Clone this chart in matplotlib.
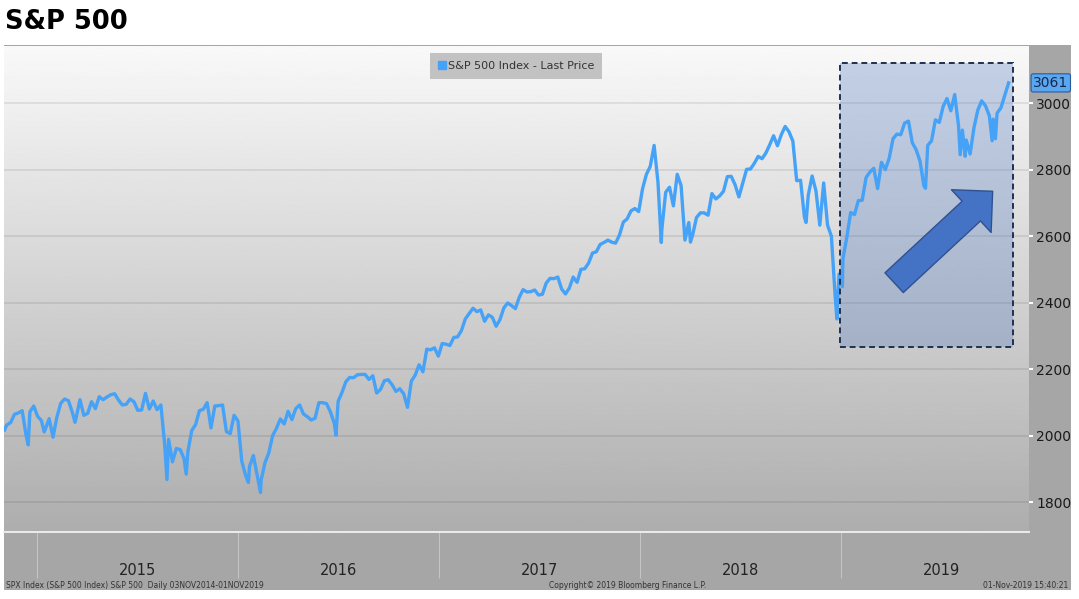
import numpy as np
import pandas as pd
import matplotlib
matplotlib.use('Agg')
import matplotlib.pyplot as plt
import matplotlib.dates as mdates
from matplotlib.patches import Rectangle
from matplotlib.lines import Line2D

# weekly (Friday) last prices
spx_2014 = [2032, 2039, 2064, 2068, 2075, 2002, 2071, 2089]
spx_2015 = [2058, 2045, 2019, 2051, 1995, 2055, 2097, 2110, 2105, 2071, 2053, 2108, 2061,
            2067, 2102, 2081, 2117, 2108, 2116, 2123, 2126, 2107, 2092, 2094, 2110, 2102,
            2076, 2077, 2127, 2080, 2104, 2078, 2092, 1971, 1989, 1921, 1961, 1958, 1931,
            1951, 2015, 2033, 2075, 2079, 2099, 2023, 2089, 2090, 2092, 2012, 2006, 2061]
spx_2016 = [2044, 1922, 1880, 1907, 1940, 1880, 1865, 1918, 1948, 2000, 2022, 2050, 2035,
            2073, 2048, 2081, 2092, 2065, 2057, 2047, 2052, 2099, 2099, 2096, 2071, 2037,
            2103, 2130, 2162, 2175, 2174, 2183, 2184, 2184, 2169, 2180, 2128, 2139, 2165,
            2168, 2153, 2133, 2141, 2126, 2085, 2164, 2182, 2213, 2192, 2260, 2258, 2264, 2239]
spx_2017 = [2277, 2275, 2271, 2295, 2297, 2316, 2351, 2367, 2383, 2373, 2378, 2344, 2363,
            2356, 2329, 2349, 2384, 2399, 2391, 2382, 2416, 2439, 2432, 2433, 2438, 2423,
            2425, 2459, 2473, 2472, 2477, 2441, 2426, 2444, 2477, 2461, 2500, 2502, 2519,
            2549, 2553, 2575, 2581, 2588, 2582, 2579, 2603, 2642, 2652, 2676, 2683, 2674]
spx_2018 = [2743, 2786, 2810, 2873, 2762, 2620, 2732, 2747, 2691, 2786, 2752, 2588, 2641,
            2604, 2656, 2670, 2670, 2663, 2728, 2712, 2721, 2735, 2779, 2780, 2755, 2718,
            2760, 2801, 2802, 2819, 2840, 2833, 2850, 2875, 2902, 2872, 2905, 2930, 2914,
            2886, 2767, 2768, 2658, 2723, 2781, 2736, 2633, 2760, 2633, 2600, 2417, 2486]
spx_2019 = [2532, 2596, 2671, 2665, 2707, 2708, 2776, 2793, 2804, 2743, 2822, 2800, 2834,
            2893, 2907, 2905, 2940, 2946, 2881, 2860, 2826, 2752, 2873, 2887, 2950, 2942,
            2990, 3014, 2977, 3026, 2932, 2919, 2889, 2847, 2926, 2979, 3007, 2992, 2962,
            2952, 2970, 2986, 3023, 3061]

# daily turning points visible on the chart
extra_dates = ['2014-11-03', '2014-12-16', '2015-01-14', '2015-03-11', '2015-08-25',
               '2015-09-29', '2016-01-20', '2016-02-11', '2016-06-27', '2018-02-08',
               '2018-04-02', '2018-10-29', '2018-12-24', '2019-01-03', '2019-06-03',
               '2019-08-05', '2019-08-14', '2019-10-02', '2019-10-08']
extra_vals = [2017, 1972, 2011, 2040, 1868, 1884, 1859, 1829, 2001, 2581,
              2582, 2641, 2351, 2448, 2744, 2845, 2840, 2887, 2893]

years = ['2015', '2016', '2017', '2018', '2019']
y_ticks = [1800, 2000, 2200, 2400, 2600, 2800, 3000]
last_price = 3061

weekly = spx_2014 + spx_2015 + spx_2016 + spx_2017 + spx_2018 + spx_2019
dates = pd.date_range('2014-11-07', '2019-11-01', freq='W-FRI')
s = pd.Series(weekly, index=dates)
s = pd.concat([s, pd.Series(extra_vals, index=pd.to_datetime(extra_dates))]).sort_index()

blue = '#45a2f7'

fig = plt.figure(figsize=(10.79, 5.99), dpi=100)
fig.patch.set_facecolor('white')
W, H = 1079, 599

# grey bloomberg panel
fig.patches.append(Rectangle((4 / W, 1 - 590 / H), 1067 / W, 545 / H,
                             transform=fig.transFigure, facecolor='#a6a6a6',
                             edgecolor='none', zorder=-5))

ax = fig.add_axes([4 / W, 1 - 532 / H, 1025 / W, 486 / H])
ax.set_facecolor('none')
ax.set_zorder(2)

# vertical gradient background
grad = np.linspace(0.68, 0.975, 256).reshape(-1, 1)
ax.imshow(grad, extent=[0, 1, 0, 1], transform=ax.transAxes, aspect='auto',
          cmap='gray', vmin=0, vmax=1, origin='lower', zorder=0)

ax.plot(s.index, s.values, color=blue, lw=2.4, zorder=3)

ax.set_xlim(pd.Timestamp('2014-11-02'), pd.Timestamp('2019-12-08'))
ax.set_ylim(1710, 3172)

ax.set_yticks(y_ticks)
ax.yaxis.tick_right()
ax.tick_params(axis='y', direction='out', length=3, width=1.5, color='white',
               labelsize=10, labelcolor='#1a1a1a', pad=2)
ax.grid(axis='y', color='black', alpha=0.1, lw=1.1, zorder=1)

# year separators + centred year labels
ax.set_xticks([pd.Timestamp(f'{y}-01-01') for y in years])
ax.xaxis.set_major_formatter(plt.NullFormatter())
ax.set_xticks([pd.Timestamp(f'{y}-07-02') for y in years], minor=True)
ax.set_xticklabels(years, minor=True)
ax.tick_params(axis='x', which='major', direction='out', length=33, width=0.8,
               color='#c4c4c4')
ax.tick_params(axis='x', which='minor', length=0, pad=22, labelsize=10.5,
               labelcolor='#222222')

for side in ['top', 'left', 'right']:
    ax.spines[side].set_visible(False)
ax.spines['bottom'].set_color('#ececec')
ax.spines['bottom'].set_linewidth(1.4)

# highlighted 2019 rally
x0 = mdates.date2num(pd.Timestamp('2018-12-30'))
x1 = mdates.date2num(pd.Timestamp('2019-11-09'))
ax.add_patch(Rectangle((x0, 2267), x1 - x0, 3121 - 2267, facecolor='#5078c0',
                       alpha=0.3, edgecolor='none', zorder=2))
ax.add_patch(Rectangle((x0, 2267), x1 - x0, 3121 - 2267, facecolor='none',
                       edgecolor='#1f3050', lw=1.4, ls=(0, (3, 2)), zorder=4))

ax.annotate('', xy=(pd.Timestamp('2019-10-03'), 2735), xytext=(pd.Timestamp('2019-04-07'), 2460),
            arrowprops=dict(arrowstyle='simple,head_length=2.1,head_width=4.2,tail_width=1.94',
                            mutation_scale=10, fc='#4472c4', ec='#2f528f', lw=1,
                            shrinkA=0, shrinkB=0), zorder=5)

# legend
handle = Line2D([], [], marker='s', ls='none', color=blue, markersize=6)
leg = ax.legend([handle], ['S&P 500 Index - Last Price'], loc='upper center',
                bbox_to_anchor=(0.4995, 0.997), fancybox=False, framealpha=1,
                facecolor='#c2c2c2', edgecolor='none', fontsize=8, handletextpad=0.1,
                handlelength=0.8, borderpad=0.7)
for t in leg.get_texts():
    t.set_color('#333333')

# last price badge
ax.annotate(f'{last_price}', xy=(1.0, last_price), xycoords=('axes fraction', 'data'),
            xytext=(3, 0), textcoords='offset points', va='center', ha='left',
            fontsize=10, color='#14284a',
            bbox=dict(boxstyle='round,pad=0.15', fc='#5aa6f0', ec='#2a5a9a', lw=0.8))

fig.text(5 / W, 1 - 22 / H, 'S&P 500', fontsize=18.5, fontweight='bold', va='center',
         ha='left', color='black')

foot = dict(fontsize=5.5, color='#333333', va='center')
fig.text(6 / W, 1 - 586 / H, 'SPX Index (S&P 500 Index) S&P 500  Daily 03NOV2014-01NOV2019',
         ha='left', **foot)
fig.text(628 / W, 1 - 586 / H, 'Copyright\u00a9 2019 Bloomberg Finance L.P.', ha='center', **foot)
fig.text(1068 / W, 1 - 586 / H, '01-Nov-2019 15:40:21', ha='right', **foot)

fig.savefig('out.png', dpi=100)
